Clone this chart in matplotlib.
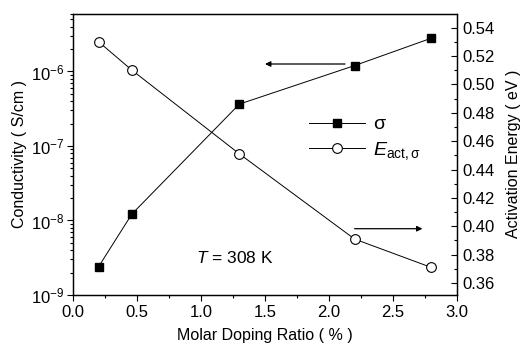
import matplotlib
matplotlib.use("Agg")
import matplotlib.pyplot as plt
from matplotlib.ticker import MultipleLocator, LogLocator, NullFormatter, FormatStrFormatter

plt.rcParams['font.family'] = ['Liberation Sans', 'DejaVu Sans']
plt.rcParams['mathtext.fontset'] = 'custom'
plt.rcParams['mathtext.rm'] = 'Liberation Sans'
plt.rcParams['mathtext.it'] = 'Liberation Sans:italic'
plt.rcParams['mathtext.bf'] = 'Liberation Sans:bold'

doping = [0.2, 0.46, 1.3, 2.2, 2.8]
sigma = [2.4e-9, 1.22e-8, 3.65e-7, 1.2e-6, 2.8e-6]
e_act = [0.530, 0.510, 0.451, 0.391, 0.371]

fig = plt.figure(figsize=(5.23, 3.54), dpi=100)
ax = fig.add_axes([73/523, 1-295/354, (457-73)/523, (295-13.5)/354])
ax2 = ax.twinx()

l1, = ax.plot(doping, sigma, '-', color='black', lw=0.7, marker='s', ms=6,
              mfc='black', mec='black')
l2, = ax2.plot(doping, e_act, '-', color='black', lw=0.7, marker='o', ms=7,
               mfc='white', mec='black', mew=0.8)

ax.set_yscale('log')
ax.set_xlim(0, 3.0)
ax.set_ylim(1e-9, 6e-6)
ax2.set_ylim(0.3516, 0.5499)

ax.xaxis.set_major_locator(MultipleLocator(0.5))
ax.xaxis.set_minor_locator(MultipleLocator(0.25))
ax.yaxis.set_major_locator(LogLocator(base=10, numticks=10))
ax.yaxis.set_minor_locator(LogLocator(base=10, subs=range(2, 10), numticks=20))
ax.yaxis.set_minor_formatter(NullFormatter())
ax2.yaxis.set_major_locator(MultipleLocator(0.02))
ax2.yaxis.set_minor_locator(MultipleLocator(0.01))
ax2.yaxis.set_major_formatter(FormatStrFormatter('%.2f'))

fs_tick = 12
fs_lab = 11.5
ax.tick_params(axis='x', which='major', direction='out', length=4, width=0.8, labelsize=fs_tick, top=False, pad=3)
ax.tick_params(axis='x', which='minor', direction='out', length=2.5, width=0.8, top=False)
ax.tick_params(axis='y', which='major', direction='out', length=4, width=0.8, labelsize=fs_tick, right=False, pad=2)
ax.tick_params(axis='y', which='minor', direction='out', length=2.5, width=0.8, right=False)
ax2.tick_params(axis='y', which='major', direction='in', length=4, width=0.8, labelsize=fs_tick, pad=4)
ax2.tick_params(axis='y', which='minor', direction='in', length=2.5, width=0.8)

for a in (ax, ax2):
    for s in a.spines.values():
        s.set_linewidth(0.9)

ax.set_xlabel('Molar Doping Ratio ( % )', fontsize=fs_lab, labelpad=6)
ax.set_ylabel('Conductivity ( S/cm )', fontsize=fs_lab, labelpad=3)
ax2.set_ylabel('Activation Energy ( eV )', fontsize=fs_lab, labelpad=8)

ax.annotate('', xy=(1.5, 1.26e-6), xytext=(2.125, 1.26e-6),
            arrowprops=dict(arrowstyle='-|>', color='black', lw=0.9,
                            mutation_scale=8, shrinkA=0, shrinkB=0))
ax2.annotate('', xy=(2.73, 0.3983), xytext=(2.2, 0.3983),
             arrowprops=dict(arrowstyle='-|>', color='black', lw=0.9,
                             mutation_scale=8, shrinkA=0, shrinkB=0))

ax.text(235/523, 1-258/354, r'$T$ = 308 K', fontsize=12.5,
        ha='center', va='center', transform=fig.transFigure)

leg = ax2.legend([l1, l2], ['σ', r'$E_{\mathrm{act,σ}}$'],
                 loc='center left', bbox_to_anchor=(309/523, 1-139/354),
                 bbox_transform=fig.transFigure,
                 frameon=False, fontsize=14, handlelength=2.9,
                 handletextpad=0.4, labelspacing=0.35, borderaxespad=0,
                 borderpad=0)

fig.savefig('out.png', dpi=100)
